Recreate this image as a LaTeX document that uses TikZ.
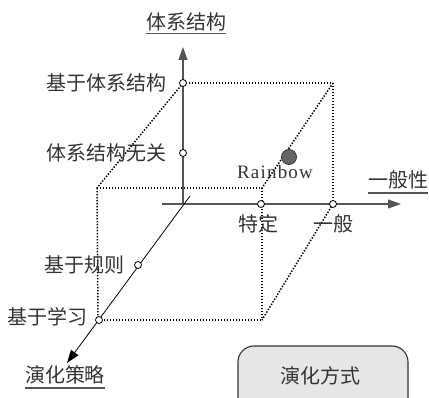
\documentclass[tikz,border=0pt]{standalone}
\usepackage{fontspec}
\setmainfont{Liberation Serif}
\newfontfamily\cjk{Noto Sans CJK SC}
\usetikzlibrary{arrows.meta}
\definecolor{txt}{HTML}{333333}
\definecolor{axisc}{HTML}{555555}
\definecolor{boxfill}{HTML}{E6E6E6}
\definecolor{boxline}{HTML}{333333}
\definecolor{dotfill}{HTML}{666666}
\begin{document}
\begin{tikzpicture}[x=1pt,y=-1pt,
  cn/.style={font=\cjk\fontsize{20}{20}\selectfont, text=txt, inner sep=0pt},
  rbfont/.style={font=\fontsize{19}{20}\selectfont, text=txt, inner sep=0pt},
  ul/.style={draw=axisc, line width=1.1pt},
  edge/.style={draw=black, line width=1.5pt, dash pattern=on 1.4pt off 1.6pt},
  axisline/.style={draw=axisc, line width=1.2pt, -{Triangle[length=13pt,width=9pt]}},
  diagline/.style={draw=black, line width=0.8pt, -{Triangle[length=13pt,width=9pt]}},
  tick/.style={circle, draw=black, fill=white, line width=0.8pt, inner sep=0pt, minimum size=7pt},
]
\useasboundingbox (0,0) rectangle (429,398);

% cube corners
\coordinate (A) at (183,83);
\coordinate (B) at (333,83);
\coordinate (C) at (333,204);
\coordinate (E) at (97,188);
\coordinate (F) at (262,188);
\coordinate (G) at (262,320);
\coordinate (D) at (98,320);

% axis ends
\coordinate (o) at (183,204);
\coordinate (vtop) at (183,47);
\coordinate (hstart) at (162,204);
\coordinate (hend) at (401,204);
\coordinate (dstart) at (190,196);
\coordinate (dend) at (67,363);

% dotted cube edges
\draw[edge] (A) -- (B);
\draw[edge] (B) -- (C);
\draw[edge] (E) -- (F);
\draw[edge] (E) -- (D);
\draw[edge] (F) -- (G);
\draw[edge] (D) -- (G);
\draw[edge] (A) -- (E);
\draw[edge] (B) -- (F);
\draw[edge] (C) -- (G);

% axes
\draw[axisline] (o) -- (vtop);
\draw[axisline] (hstart) -- (hend);
\draw[diagline] (dstart) -- (dend);

% ticks
\node[tick] (v1) at (183,83) {};
\node[tick] (v2) at (183,153) {};
\node[tick] (h1) at (261,204) {};
\node[tick] (h2) at (333,204) {};
\node[tick] (d1) at (138,265) {};
\node[tick] (d2) at (99,320) {};

% Rainbow point
\node[circle, draw=boxline, fill=dotfill, line width=0.8pt, minimum size=15pt, inner sep=0pt] (rbdot) at (289,157) {};
\node[rbfont, anchor=base] (rb) at (275,179) {R\kern1.2pt a\kern1.2pt i\kern1.2pt n\kern1.2pt b\kern1.2pt o\kern1.2pt w};

% axis titles
\node[cn, anchor=base] (ty) at (186,30) {体系结构};
\draw[ul] ([yshift=-3.5pt]ty.base west) -- ([yshift=-3.5pt]ty.base east);
\node[cn, anchor=base] (tx) at (398,187.5) {一般性};
\draw[ul] ([yshift=-5.5pt]tx.base west) -- ([yshift=-5.5pt]tx.base east);
\node[cn, anchor=base] (tz) at (65,383) {演化策略};
\draw[ul] ([yshift=-5pt]tz.base west) -- ([yshift=-5pt]tz.base east);

% tick labels
\node[cn, anchor=base east] (l1) at (167,90.5) {基于体系结构};
\node[cn, anchor=base east] (l2) at (167,160.5) {体系结构无关};
\node[cn, anchor=base] (l3) at (258,231.5) {特定};
\node[cn, anchor=base] (l4) at (333,231.5) {一般};
\node[cn, anchor=base east] (l5) at (125,272.5) {基于规则};
\node[cn, anchor=base east] (l6) at (88,324.5) {基于学习};

% box
\begin{scope}
\clip (0,0) rectangle (429,398);
\node[draw=boxline, fill=boxfill, line width=1.1pt, rounded corners=16pt, minimum width=170pt, minimum height=74pt, inner sep=0pt] (box) at (323,383) {};
\end{scope}
\node[cn, anchor=base] (bt) at (320,383.5) {演化方式};
\end{tikzpicture}
\end{document}
